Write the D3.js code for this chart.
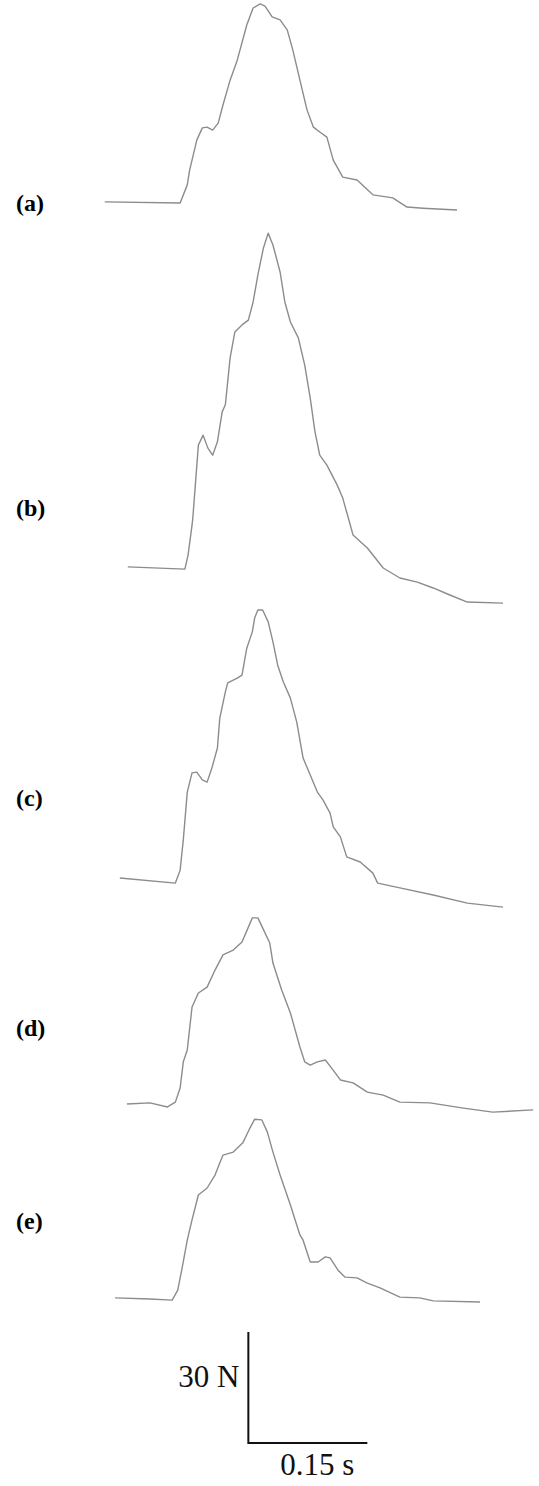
<!DOCTYPE html>
<html>
<head>
<meta charset="utf-8">
<script src="https://cdn.jsdelivr.net/npm/d3@7"></script>
<style>
	body { margin: 0; background: #fff; }
	.trace { fill: none; stroke: #8c8c8c; stroke-width: 1.4; stroke-linejoin: round; }
	.bar { stroke: #111; stroke-width: 2; fill: none; }
	.panelLabel { font-family: "Liberation Serif", "DejaVu Serif", serif; font-weight: bold; font-size: 24px; }
	.barLabel { font-family: "Liberation Serif", "DejaVu Serif", serif; font-size: 31px; fill: #111; }
</style>
</head>
<body>
<div class="container"></div>
<script>
// time in seconds, force in newtons
var panels = ['(a)', '(b)', '(c)', '(d)', '(e)'];

var timeA  = [0.006, 0.101, 0.110, 0.113, 0.122, 0.129, 0.135, 0.142, 0.149, 0.155, 0.164, 0.173, 0.185, 0.193, 0.202, 0.208, 0.217, 0.227, 0.236, 0.243, 0.252, 0.261, 0.269, 0.277, 0.286, 0.294, 0.306, 0.324, 0.344, 0.369, 0.387, 0.407, 0.450];
var forceA = [0.3, 0, 4.9, 8.9, 17.0, 20.3, 20.5, 19.7, 21.6, 26.5, 33.2, 38.6, 48.1, 52.7, 53.8, 53.2, 50.3, 49.5, 46.8, 41.4, 33.2, 25.1, 20.5, 19.2, 17.8, 11.6, 7.0, 6.2, 2.2, 1.4, -1.1, -1.4, -1.9];

var timeB  = [0.035, 0.107, 0.111, 0.116, 0.117, 0.124, 0.130, 0.136, 0.142, 0.148, 0.154, 0.158, 0.164, 0.170, 0.179, 0.187, 0.193, 0.199, 0.206, 0.212, 0.218, 0.227, 0.233, 0.240, 0.250, 0.258, 0.265, 0.271, 0.277, 0.286, 0.299, 0.306, 0.313, 0.319, 0.337, 0.357, 0.378, 0.400, 0.420, 0.441, 0.463, 0.508];
var forceB = [0.3, -0.3, 3.5, 11.6, 13.5, 33.2, 35.9, 32.4, 30.5, 34.1, 42.2, 44.1, 56.8, 63.8, 65.7, 67.0, 71.9, 79.2, 86.5, 90.5, 87.3, 80.0, 71.9, 66.5, 62.2, 54.9, 45.9, 36.8, 30.5, 27.8, 22.4, 18.9, 13.5, 8.9, 5.4, 0, -2.7, -3.8, -5.4, -7.3, -9.2, -9.5];

var timeC  = [0.025, 0.095, 0.101, 0.105, 0.110, 0.116, 0.122, 0.129, 0.135, 0.141, 0.148, 0.151, 0.158, 0.161, 0.173, 0.179, 0.185, 0.192, 0.195, 0.199, 0.205, 0.212, 0.218, 0.224, 0.231, 0.240, 0.248, 0.256, 0.265, 0.274, 0.281, 0.290, 0.294, 0.303, 0.311, 0.328, 0.344, 0.350, 0.378, 0.420, 0.463, 0.508];
var forceC = [1.1, -0.3, 3.2, 11.4, 24.3, 29.5, 29.7, 27.6, 27.0, 30.8, 36.2, 44.3, 51.4, 53.8, 55.1, 55.9, 63.2, 67.6, 71.4, 73.5, 73.5, 70.3, 64.9, 58.6, 54.1, 49.7, 43.2, 33.5, 28.9, 24.3, 22.2, 18.6, 14.9, 12.2, 6.8, 5.4, 2.4, -0.3, -1.6, -3.5, -5.7, -6.8];

var timeD  = [0.034, 0.063, 0.085, 0.095, 0.101, 0.105, 0.110, 0.116, 0.124, 0.135, 0.145, 0.155, 0.168, 0.179, 0.187, 0.192, 0.199, 0.205, 0.214, 0.218, 0.229, 0.240, 0.252, 0.258, 0.265, 0.274, 0.284, 0.292, 0.303, 0.319, 0.337, 0.357, 0.378, 0.416, 0.458, 0.495, 0.546];
var forceD = [0, 0.3, -0.8, 0.5, 4.3, 11.4, 14.6, 26.2, 30.0, 31.6, 36.2, 40.3, 41.6, 43.8, 47.8, 50.3, 50.3, 47.6, 43.5, 38.1, 30.8, 24.6, 15.4, 11.4, 10.5, 11.4, 11.9, 9.7, 6.5, 5.7, 3.2, 2.4, 0.5, 0.3, -1.1, -2.2, -1.6];

var timeE  = [0.019, 0.063, 0.091, 0.098, 0.103, 0.110, 0.116, 0.124, 0.135, 0.145, 0.155, 0.168, 0.180, 0.189, 0.195, 0.204, 0.211, 0.218, 0.227, 0.240, 0.252, 0.256, 0.265, 0.275, 0.284, 0.290, 0.300, 0.309, 0.324, 0.337, 0.353, 0.378, 0.403, 0.420, 0.479];
var forceE = [0.3, 0, -0.3, 2.4, 7.8, 15.9, 21.4, 28.1, 30.0, 33.5, 38.9, 39.7, 42.2, 46.2, 48.6, 48.4, 45.1, 39.7, 33.5, 25.4, 17.3, 15.9, 10.0, 10.0, 11.4, 11.1, 7.8, 5.9, 5.7, 4.3, 3.0, 0.5, 0.3, -0.5, -0.8];

var scaleBarTime = 0.15,
	scaleBarForce = 30,
	scaleBarStart = 0.187,
	scaleBarLabels = ['30 N', '0.15 s'];

var	WIDTH = 539,
	HEIGHT = 1486,
	PX_PER_SEC = 119 / 0.15,
	PX_PER_N = 111 / 30,
	X0 = 100,
	baselines = [203, 568, 882, 1104, 1299],
	labelY = [211, 516, 806, 1036, 1229];

function translate(x, y) {
	return 'translate(' + x + ',' + y + ')';
}

function zip(t, f) {
	return t.map(function(d, i) { return [d, f[i]]; });
}

window.onload = function() {
	var svg = d3.select('.container').append('svg')
		.attr('width', WIDTH)
		.attr('height', HEIGHT);

	var xScale = d3.scaleLinear()
		.domain([0, 0.15])
		.range([X0, X0 + 0.15 * PX_PER_SEC]);

	var yScale = d3.scaleLinear()
		.domain([0, 30])
		.range([0, -30 * PX_PER_N]);

	var line = d3.line()
		.x(function(d) { return xScale(d[0]); })
		.y(function(d) { return yScale(d[1]); });

	var traces = [zip(timeA, forceA), zip(timeB, forceB), zip(timeC, forceC), zip(timeD, forceD), zip(timeE, forceE)];

	traces.forEach(function(data, i) {
		svg.append('g')
			.attr('transform', translate(0, baselines[i]))
			.append('path')
			.datum(data)
			.attr('class', 'trace')
			.attr('d', line);

		svg.append('text')
			.attr('class', 'panelLabel')
			.attr('x', 16)
			.attr('y', labelY[i])
			.text(panels[i]);
	});

	// scale bar
	var barBottom = 1443;
	var bar = svg.append('g').attr('transform', translate(0, barBottom));
	var bx = xScale(scaleBarStart);

	bar.append('path')
		.attr('class', 'bar')
		.attr('d', 'M' + bx + ',' + yScale(scaleBarForce) + 'V0H' + xScale(scaleBarStart + scaleBarTime));

	bar.append('text')
		.attr('class', 'barLabel')
		.attr('x', bx - 9)
		.attr('y', -56)
		.attr('text-anchor', 'end')
		.text(scaleBarLabels[0]);

	bar.append('text')
		.attr('class', 'barLabel')
		.attr('x', bx + 32)
		.attr('y', 32)
		.text(scaleBarLabels[1]);
};
</script>
</body>
</html>
